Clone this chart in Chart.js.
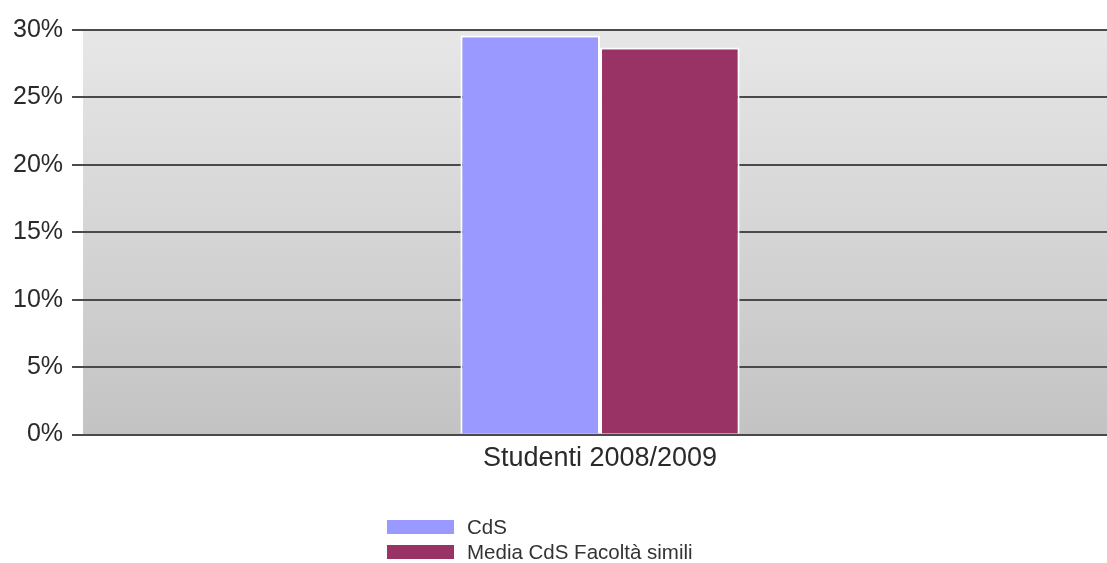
<!DOCTYPE html>
<html>
<head>
<meta charset="utf-8">
<script src="https://cdn.jsdelivr.net/npm/chart.js@4/dist/chart.umd.min.js"></script>
<style>
  html, body { margin: 0; padding: 0; background: #fff; overflow: hidden; }
  #wrap { position: relative; width: 1107px; height: 563px; overflow: hidden; }
  #legend { position: absolute; left: 387px; top: 514px; font-family: "Liberation Sans", Arial, sans-serif; font-size: 20.5px; color: #333; }
  .riga { display: flex; align-items: center; height: 25px; }
  .box { width: 67px; height: 14px; margin-right: 13px; }
</style>
</head>
<body>
<div id="wrap">
  <canvas id="myChart" width="1117" height="563"></canvas>
  <div id="legend"></div>
</div>
<script>
/** Dati */
var categorie = ['Studenti 2008/2009'];
var serieNomi = ['CdS', 'Media CdS Facoltà simili'];
var valoriCdS = [29.6];
var valoriMedia = [28.7];
var colori = ['#9999ff', '#993366'];

/** Sfondo sfumato */
var sfondo = {
  id: 'sfondo',
  beforeDraw: function(chart) {
    var a = chart.chartArea;
    var ctx = chart.ctx;
    var g = ctx.createLinearGradient(0, a.top, 0, a.bottom);
    g.addColorStop(0, '#e7e7e7');
    g.addColorStop(1, '#c3c3c3');
    ctx.save();
    ctx.fillStyle = g;
    ctx.fillRect(a.left, a.top, a.right - a.left, a.bottom - a.top);
    ctx.restore();
  }
};

var ctx = document.getElementById('myChart').getContext('2d');
var myChart = new Chart(ctx, {
  type: 'bar',
  data: {
    labels: categorie,
    datasets: [{
      label: serieNomi[0],
      data: valoriCdS,
      backgroundColor: colori[0],
      borderColor: '#ffffff',
      borderWidth: 2
    }, {
      label: serieNomi[1],
      data: valoriMedia,
      backgroundColor: colori[1],
      borderColor: '#ffffff',
      borderWidth: 2
    }]
  },
  options: {
    responsive: false,
    animation: false,
    layout: { padding: { left: 4, top: 30, right: 0, bottom: 88 } },
    datasets: { bar: { barPercentage: 1, categoryPercentage: 0.27 } },
    plugins: { legend: { display: false }, tooltip: { enabled: false } },
    scales: {
      x: {
        grid: { display: false },
        border: { display: false },
        ticks: { color: '#2a2a2a', padding: 0, font: { family: "'Liberation Sans', Arial, sans-serif", size: 27 } }
      },
      y: {
        min: 0,
        max: 30,
        border: { display: false },
        grid: { color: '#4a4a4a', lineWidth: 2, tickLength: 11 },
        ticks: {
          stepSize: 5,
          padding: 9,
          color: '#2a2a2a',
          font: { family: "'Liberation Sans', Arial, sans-serif", size: 25 },
          callback: function(v) { return v + '%'; }
        }
      }
    }
  },
  plugins: [sfondo]
});

/** Legenda */
var leg = document.getElementById('legend');
myChart.data.datasets.forEach(function(ds) {
  var r = document.createElement('div');
  r.className = 'riga';
  r.innerHTML = '<span class="box" style="background:' + ds.backgroundColor + '"></span>' + ds.label;
  leg.appendChild(r);
});
</script>
</body>
</html>
